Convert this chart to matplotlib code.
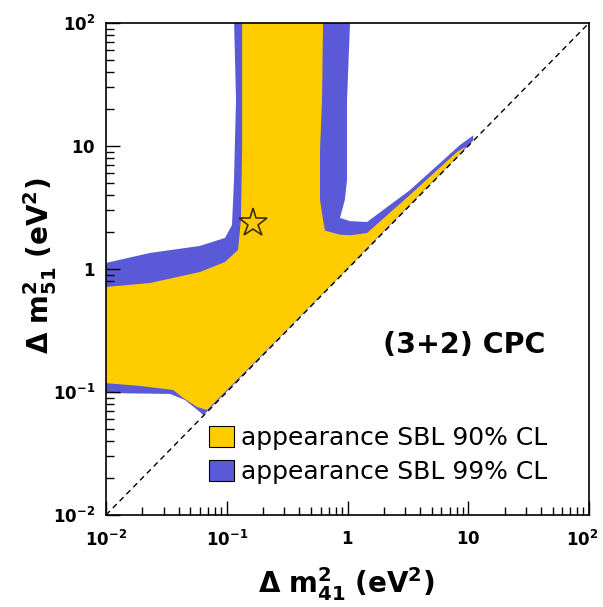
import numpy as np
import matplotlib.pyplot as plt
import matplotlib.transforms as mtransforms
from matplotlib.patches import Patch
from matplotlib.ticker import FixedLocator, LogLocator, NullFormatter

plt.rcParams['font.family'] = 'DejaVu Sans'
plt.rcParams['mathtext.fontset'] = 'dejavusans'

# 90% CL allowed region boundary (dm41^2, dm51^2) in eV^2
cl90_x = [0.134, 0.627, 0.615, 0.592, 0.592, 0.627, 0.651, 0.867, 1.05, 1.45,
          3.29, 8.07, 9.40, 9.00, 3.30, 1.00, 0.30, 0.0686,
          0.0567, 0.0426, 0.0359, 0.0191, 0.010, 0.010, 0.0231, 0.060,
          0.0967, 0.124, 0.131, 0.134]
cl90_y = [100.0, 100.0, 23.7, 9.28, 3.64, 2.50, 2.05, 1.90, 1.88, 1.96,
          4.00, 8.93, 9.80, 9.18, 3.37, 1.02, 0.306, 0.0714,
          0.0755, 0.091, 0.104, 0.112, 0.118, 0.714, 0.769, 0.945,
          1.14, 1.43, 2.50, 9.30]

# 99% CL allowed region boundary
cl99_x = [0.115, 1.049, 0.991, 0.991, 0.950, 0.867, 1.05, 1.45, 3.29, 8.55,
          11.0, 11.0, 3.00, 1.00, 0.30, 0.064,
          0.060, 0.0451, 0.0339, 0.010, 0.010, 0.0231, 0.060, 0.0967,
          0.1105, 0.1148, 0.1193]
cl99_y = [100.0, 100.0, 23.7, 5.29, 3.64, 2.60, 2.45, 2.41, 4.38, 10.2,
          12.2, 11.1, 3.03, 1.01, 0.303, 0.0646,
          0.0687, 0.0861, 0.0964, 0.098, 1.12, 1.35, 1.54, 1.79,
          2.28, 5.29, 23.7]

best_fit = (0.165, 2.37)

x_ticks = [0.01, 0.1, 1, 10, 100]
x_ticklabels = [r'$\mathbf{10^{-2}}$', r'$\mathbf{10^{-1}}$', r'$\mathbf{1}$',
                r'$\mathbf{10}$', r'$\mathbf{10^{2}}$']

col90 = '#FFCC00'
col99 = '#5A5AD8'

fig = plt.figure(figsize=(6.03, 6.07), dpi=100)
ax = fig.add_axes([0.1758, 0.1516, 0.801, 0.8105])
ax.set_xscale('log')
ax.set_yscale('log')
ax.set_xlim(0.01, 100)
ax.set_ylim(0.01, 100)

ax.fill(cl99_x, cl99_y, color=col99, lw=0, zorder=1)
ax.fill(cl90_x, cl90_y, color=col90, lw=0, zorder=2)

# dm51 = dm41 line
ax.plot([0.01, 100], [0.01, 100], color='black', lw=1.0,
        linestyle=(0, (4, 3)), zorder=3)

ax.plot(*best_fit, marker='*', markersize=21, markerfacecolor='none',
        markeredgecolor='#3d2f00', markeredgewidth=1.2, zorder=4)

ax.text(9.2, 0.24, '(3+2) CPC', fontsize=20.5, fontweight='bold',
        ha='center', va='center')

handles = [Patch(facecolor=col90, edgecolor='black', lw=0.8),
           Patch(facecolor=col99, edgecolor='black', lw=0.8)]
ax.legend(handles, ['appearance SBL 90% CL', 'appearance SBL 99% CL'],
          loc='lower left', bbox_to_anchor=(0.213, 0.063), frameon=False,
          fontsize=18, handlelength=1.0, handleheight=0.95,
          handletextpad=0.3, labelspacing=0.38, borderpad=0, borderaxespad=0)

for a in (ax.xaxis, ax.yaxis):
    a.set_major_locator(FixedLocator(x_ticks))
    a.set_minor_locator(LogLocator(base=10, subs=np.arange(2, 10)))
    a.set_minor_formatter(NullFormatter())
ax.set_xticklabels(x_ticklabels)
ax.set_yticklabels(x_ticklabels)
ax.tick_params(which='both', direction='in', top=False, right=False,
               labelsize=12)
ax.tick_params(axis='x', which='major', length=10, width=1.0, pad=11)
ax.tick_params(axis='y', which='major', length=10, width=1.0, pad=8)
ax.tick_params(which='minor', length=5.5, width=1.0)
for s in ax.spines.values():
    s.set_linewidth(1.2)

# keep the last x label inside the figure
last = ax.get_xticklabels()[-1]
last.set_transform(last.get_transform() +
                   mtransforms.ScaledTranslation(-7 / 100, 0, fig.dpi_scale_trans))

fig.text(0.575, 0.037, r'$\mathbf{\Delta\ m^{2}_{41}\ (eV^{2})}$',
         fontsize=20, ha='center', va='center')
fig.text(0.066, 0.562, r'$\mathbf{\Delta\ m^{2}_{51}\ (eV^{2})}$',
         fontsize=20, ha='center', va='center', rotation=90)

fig.savefig('out.png', dpi=100, facecolor='white')
